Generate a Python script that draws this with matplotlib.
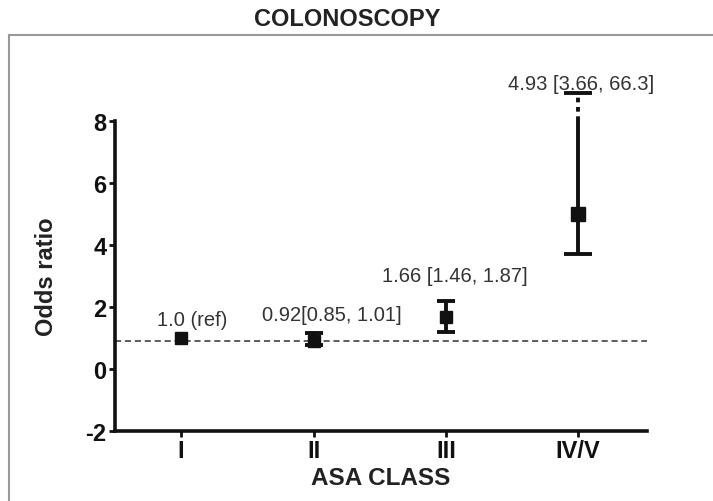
import matplotlib
matplotlib.use('Agg')
import matplotlib.pyplot as plt
from matplotlib.lines import Line2D

plt.rcParams['font.family'] = ['Liberation Sans', 'DejaVu Sans']
plt.rcParams['axes.unicode_minus'] = False

# data
classes = ['I', 'II', 'III', 'IV/V']
odds    = [1.0, 0.9, 1.66, 5.0]
ci_low  = [1.0, 0.75, 1.2, 3.7]
ci_high = [1.0, 1.15, 2.2, 8.9]
notes   = ['1.0 (ref)', '0.92[0.85, 1.01]', '1.66 [1.46, 1.87]', '4.93 [3.66, 66.3]']
note_y  = [1.6, 1.75, 3.0, 9.2]
note_dx = [0.08, 0.14, 0.07, 0.02]
ref_line = 0.9
axis_break = 8.0
yticks = [-2, 0, 2, 4, 6, 8]

W, H = 713, 502
fig = plt.figure(figsize=(W / 100, H / 100), dpi=100)
ax = fig.add_axes([115 / W, 1 - 431.7 / H, (647 - 115) / W, (431.7 - 121.7) / H])

x = list(range(1, len(classes) + 1))

ax.axhline(ref_line, color='#333333', lw=1.1, ls=(0, (4, 2.5)), zorder=1)

# plain error bars for the first three classes
for i in range(3):
    if ci_low[i] == ci_high[i]:
        ax.plot(x[i], odds[i], 's', color='#111111', ms=9, zorder=3)
        continue
    ax.errorbar(x[i], odds[i],
                yerr=[[odds[i] - ci_low[i]], [ci_high[i] - odds[i]]],
                fmt='s', color='#111111', ms=9, lw=2.8, capsize=6.5, capthick=2.8,
                zorder=3)

# last class goes past the axis top: solid up to the break, dotted above it
i = 3
eb = ax.errorbar(x[i], odds[i],
                 yerr=[[odds[i] - ci_low[i]], [ci_high[i] - odds[i]]],
                 fmt='s', color='#111111', ms=10, lw=2.8, capsize=10, capthick=2.8,
                 zorder=3)
for c in eb[1]:
    c.set_clip_on(False)
for c in eb[2]:
    c.set_visible(False)
ax.vlines(x[i], ci_low[i], axis_break, color='#111111', lw=2.8, zorder=2)
ax.vlines(x[i], axis_break, ci_high[i], color='#111111', lw=2.8,
          linestyles=(0, (1.2, 1.2)), clip_on=False, zorder=2)

for xi, t, ty, dx in zip(x, notes, note_y, note_dx):
    ax.text(xi + dx, ty, t, ha='center', va='center', fontsize=14.5, color='#333333',
            clip_on=False)

ax.set_xlim(0.5, 4.52)
ax.set_ylim(-2, 8)
ax.set_xticks(x)
ax.set_xticklabels(classes)
ax.set_yticks(yticks)

for s in ['top', 'right']:
    ax.spines[s].set_visible(False)
for s in ['left', 'bottom']:
    ax.spines[s].set_linewidth(2.6)
    ax.spines[s].set_color('#111111')

ax.tick_params(axis='both', direction='out', length=4, width=2, colors='#111111',
               labelsize=17, pad=2)
for lab in ax.get_xticklabels() + ax.get_yticklabels():
    lab.set_fontweight('bold')

ax.set_ylabel('Odds ratio', fontsize=17, fontweight='bold', color='#222222', labelpad=20)
ax.set_xlabel('ASA CLASS', fontsize=17.5, fontweight='bold', color='#222222', labelpad=3)

fig.text(347 / W, 1 - 20 / H, 'COLONOSCOPY', ha='center', va='center', fontsize=17,
         fontweight='bold', color='#222222')

# frame round the panel (only top and left edges show)
fig.add_artist(Line2D([9 / W, 1], [1 - 36 / H, 1 - 36 / H], transform=fig.transFigure,
                      color='#999999', lw=1.5))
fig.add_artist(Line2D([9 / W, 9 / W], [1 - 36 / H, 0], transform=fig.transFigure,
                      color='#999999', lw=1.5))

fig.savefig('out.png', dpi=100)
